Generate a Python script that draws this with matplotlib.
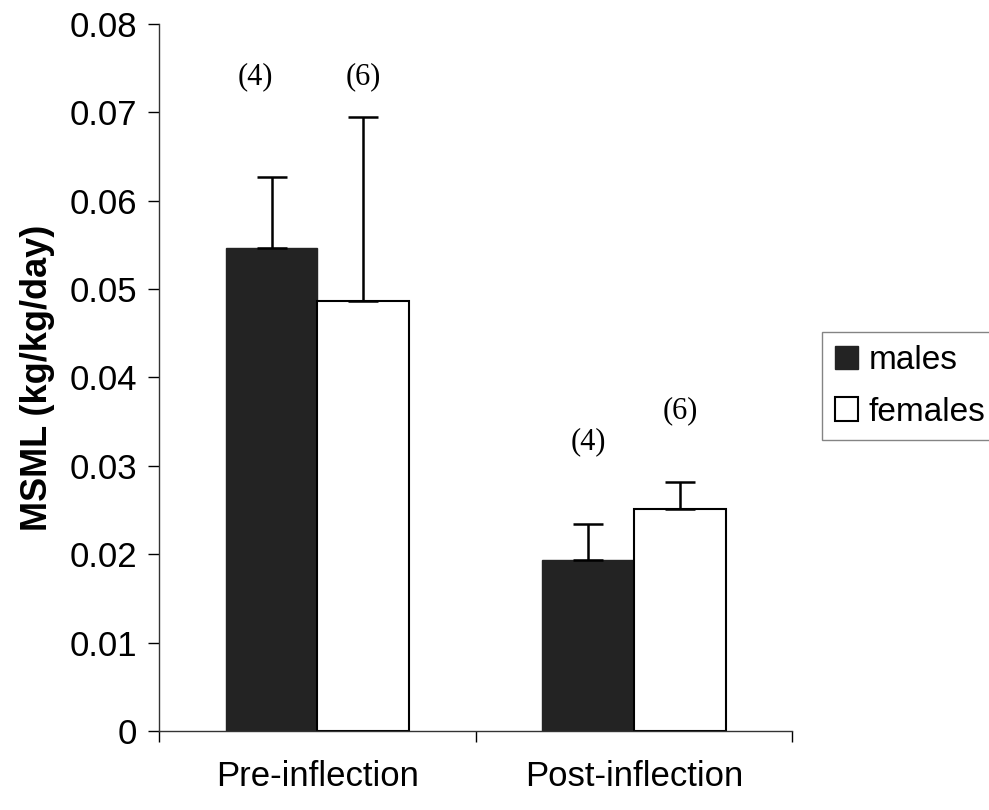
import matplotlib
matplotlib.use("Agg")
import matplotlib.pyplot as plt
import numpy as np

plt.rcParams['font.family'] = ['Liberation Sans', 'DejaVu Sans']

categories = ['Pre-inflection', 'Post-inflection']
series = ['males', 'females']
males = [0.0547, 0.0194]
females = [0.0486, 0.0251]
males_err = [0.0080, 0.0040]
females_err = [0.0209, 0.0031]
males_n = ['(4)', '(4)']
females_n = ['(6)', '(6)']
males_label_y = [0.0740, 0.0327]
females_label_y = [0.0740, 0.0362]

fig = plt.figure(figsize=(9.89, 8.10), dpi=100)
ax = fig.add_axes([0.161, 0.0975, 0.640, 0.873])

x = np.arange(len(categories))
w = 0.29
ax.bar(x - w / 2, males, w, color='#232323', edgecolor='#232323', linewidth=1, label=series[0])
ax.bar(x + w / 2, females, w, color='white', edgecolor='black', linewidth=1.5, label=series[1])
ax.errorbar(x - w / 2, males, yerr=[np.zeros(2), males_err], fmt='none', ecolor='black',
            elinewidth=1.8, capsize=11, capthick=1.8)
ax.errorbar(x + w / 2, females, yerr=[np.zeros(2), females_err], fmt='none', ecolor='black',
            elinewidth=1.8, capsize=11, capthick=1.8)

for i in range(len(categories)):
    # the pre-inflection male count sits a little left of its bar in the original
    dx = -0.05 if i == 0 else 0
    ax.text(x[i] - w / 2 + dx, males_label_y[i], males_n[i], ha='center', va='center',
            fontsize=22, family='Liberation Serif')
    ax.text(x[i] + w / 2, females_label_y[i], females_n[i], ha='center', va='center',
            fontsize=22, family='Liberation Serif')

ax.set_xlim(-0.5, 1.5)
ax.set_ylim(0, 0.08)
ax.set_yticks(np.arange(0, 0.081, 0.01))
ax.set_yticklabels(['0', '0.01', '0.02', '0.03', '0.04', '0.05', '0.06', '0.07', '0.08'])
ax.set_xticks([-0.5, 0.5, 1.5])
ax.set_xticklabels([])
ax.set_xticks(x, minor=True)
ax.set_xticklabels(categories, minor=True)
ax.tick_params(axis='x', which='minor', length=0, labelsize=25, pad=21)
ax.tick_params(axis='x', which='major', length=8, width=1, direction='out')
ax.tick_params(axis='y', length=8, width=1, direction='out', labelsize=25, pad=8)

for s in ['top', 'right']:
    ax.spines[s].set_visible(False)
for s in ['left', 'bottom']:
    ax.spines[s].set_linewidth(1)
    ax.spines[s].set_color('#333333')

ax.set_ylabel('MSML (kg/kg/day)', fontsize=26, fontweight='bold', labelpad=10)

leg = fig.legend(loc='center left', bbox_to_anchor=(0.831, 0.523), fontsize=24,
                 frameon=True, fancybox=False, edgecolor='#666666', handlelength=0.7,
                 handleheight=0.7, handletextpad=0.33, borderpad=0.38, labelspacing=0.62,
                 borderaxespad=0)
leg.get_frame().set_linewidth(1)

fig.savefig('out.png', dpi=100)
